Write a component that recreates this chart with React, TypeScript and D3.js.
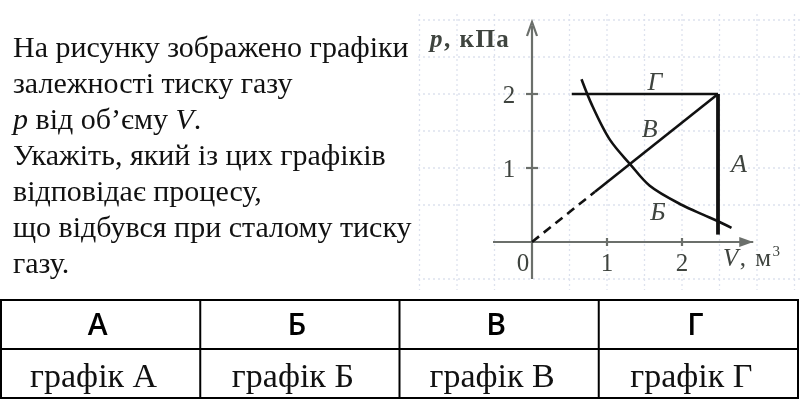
import React from 'react';
import * as d3 from 'd3';

// question text, one entry per line
const questionLines = [
  'На рисунку зображено графіки',
  'залежності тиску газу',
  '@p від об’єму V.',
  'Укажіть, який із цих графіків',
  'відповідає процесу,',
  'що відбувся при сталому тиску',
  'газу.',
];

const answerKeys = ['А', 'Б', 'В', 'Г'];
const answerTexts = ['графік А', 'графік Б', 'графік В', 'графік Г'];

const vTicks = [1, 2];
const pTicks = [1, 2];
const gridV = [-1.5, -1, -0.5, 0.5, 1, 1.5, 2, 2.5, 3, 3.5];
const gridP = [-0.5, 0.5, 1, 1.5, 2, 2.5, 3];

// graphs, [V, p]
const graphG: [number, number][] = [[0.53, 2], [2.48, 2]];
const graphA: [number, number][] = [[2.48, 2], [2.48, 0.1]];
const graphVDashed: [number, number][] = [[0, 0], [0.84, 0.68]];
const graphVSolid: [number, number][] = [[0.84, 0.68], [2.48, 2]];
const graphB: [number, number][] = [
  [0.66, 2.2], [0.8, 1.85], [1.04, 1.38], [1.31, 1.05], [1.57, 0.76],
  [2.0, 0.5], [2.28, 0.37], [2.48, 0.28], [2.66, 0.19],
];

// curve labels: [V, p, text] (baseline)
const curveLabels: [number, number, string][] = [
  [1.64, 2.05, 'Г'],
  [1.57, 1.42, 'В'],
  [2.76, 0.95, 'А'],
  [1.68, 0.3, 'Б'],
];

const x = d3.scaleLinear().domain([0, 3]).range([532, 757]);
const y = d3.scaleLinear().domain([0, 2]).range([242, 94]);

const line = d3.line<[number, number]>().x(d => x(d[0])).y(d => y(d[1]));
const curve = d3.line<[number, number]>().x(d => x(d[0])).y(d => y(d[1])).curve(d3.curveCatmullRom);

const serif = '"Liberation Serif"';
const axisColor = '#6b6f6b';
const labelColor = '#3f443f';

const tableTop = 300;
const tableMid = 349;
const tableBottom = 398;
const colX = d3.scaleBand().domain(answerKeys).range([1, 798]).paddingInner(0);

export default function App() {
  return (
    <svg width={800} height={400} style={{ position: 'fixed', left: 0, top: 0 }}>
      {/* question */}
      {questionLines.map((ln, i) => {
        const yy = 57 + i * 36;
        if (ln.startsWith('@')) {
          return (
            <text key={i} x={13} y={yy} fontFamily={serif} fontSize={30} fill="#111">
              <tspan fontStyle="italic">p</tspan>
              <tspan> від об’єму </tspan>
              <tspan fontStyle="italic">V</tspan>
              <tspan>.</tspan>
            </text>
          );
        }
        return <text key={i} x={13} y={yy} fontFamily={serif} fontSize={30} fill="#111">{ln}</text>;
      })}

      {/* grid */}
      <g stroke="#dde2ee" strokeWidth={1.3} strokeDasharray="2,3">
        {gridV.map(v => (
          <line key={'gv' + v} x1={x(v)} x2={x(v)} y1={14} y2={290} />
        ))}
        {gridP.map(p => (
          <line key={'gp' + p} x1={418} x2={800} y1={y(p)} y2={y(p)} />
        ))}
      </g>

      {/* axes */}
      <g stroke={axisColor} strokeWidth={2.2} fill="none">
        <line x1={x(-0.52)} x2={x(2.95)} y1={y(0)} y2={y(0)} />
        <line x1={x(0)} x2={x(0)} y1={y(-0.5)} y2={26} />
        {vTicks.map(v => (
          <line key={'tv' + v} x1={x(v)} x2={x(v)} y1={y(0) - 4} y2={y(0) + 4} />
        ))}
        {pTicks.map(p => (
          <line key={'tp' + p} x1={x(0) - 6} x2={x(0) + 6} y1={y(p)} y2={y(p)} />
        ))}
        <path d={`M${x(0) - 5},${36} L${x(0)},${22} L${x(0) + 5},${36}`} strokeWidth={2.2} />
      </g>
      <path d={`M${x(2.95) - 14},${y(0) - 5} L${x(2.95)},${y(0)} L${x(2.95) - 14},${y(0) + 5} Z`} fill={axisColor} />

      {/* tick labels */}
      {vTicks.map(v => (
        <text key={'lv' + v} x={x(v)} y={271} fontFamily={serif} fontSize={25} fill={labelColor} textAnchor="middle">{v}</text>
      ))}
      {pTicks.map(p => (
        <text key={'lp' + p} x={x(0) - 23} y={y(p) + 9} fontFamily={serif} fontSize={25} fill={labelColor} textAnchor="middle">{p}</text>
      ))}
      <text x={x(0) - 9} y={271} fontFamily={serif} fontSize={25} fill={labelColor} textAnchor="middle">0</text>
      <text x={430} y={47} fontFamily={serif} fontSize={25} fill={labelColor} fontWeight="bold" letterSpacing={1.5}>
        <tspan fontStyle="italic">p</tspan>, кПа
      </text>
      <text x={723} y={266} fontFamily={serif} fontSize={25} fill={labelColor} letterSpacing={1.5}>
        <tspan fontStyle="italic">V</tspan>, м<tspan fontSize={15} dy={-10}>3</tspan>
      </text>

      {/* graphs */}
      <g fill="none" stroke="#111" strokeLinecap="butt">
        <path d={line(graphG) || ''} strokeWidth={2.6} />
        <path d={line(graphA) || ''} strokeWidth={3.8} />
        <path d={line(graphVSolid) || ''} strokeWidth={2.6} />
        <path d={line(graphVDashed) || ''} strokeWidth={2.6} strokeDasharray="9,6" />
        <path d={curve(graphB) || ''} strokeWidth={2.6} />
      </g>
      {curveLabels.map(([v, p, t]) => (
        <text key={t} x={x(v)} y={y(p)} fontFamily={serif} fontSize={26} fontStyle="italic" fill={labelColor} textAnchor="middle">{t}</text>
      ))}

      {/* answer table */}
      <g stroke="#000" strokeWidth={2}>
        <rect x={1} y={tableTop} width={797} height={tableBottom - tableTop} fill="none" />
        <line x1={1} x2={798} y1={tableMid} y2={tableMid} />
        {answerKeys.slice(1).map(k => (
          <line key={k} x1={colX(k)} x2={colX(k)} y1={tableTop} y2={tableBottom} />
        ))}
      </g>
      {answerKeys.map((k, i) => {
        const cx = (colX(k) || 0) + colX.bandwidth() / 2;
        return (
          <g key={k}>
            <text x={cx - 3} y={335} textAnchor="middle" fontFamily='"Open Sans"' fontSize={30} fontWeight={600} fill="#000">{k}</text>
            <text x={cx - 7} y={387} textAnchor="middle" fontFamily={serif} fontSize={34} fill="#111">{answerTexts[i]}</text>
          </g>
        );
      })}
    </svg>
  );
}
